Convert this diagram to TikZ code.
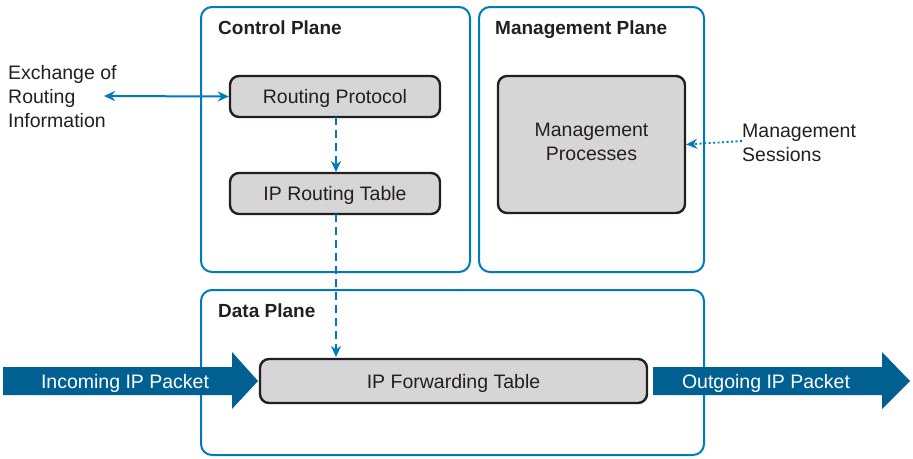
\documentclass[tikz,border=0pt]{standalone}
\usepackage{fontspec}
\setmainfont{Liberation Sans}
\usetikzlibrary{arrows.meta}
\definecolor{planeblue}{RGB}{0,122,190}
\definecolor{arrowblue}{RGB}{0,96,145}
\definecolor{boxgray}{RGB}{214,214,214}
\definecolor{txt}{RGB}{35,31,32}
\tikzset{
  plane/.style={draw=planeblue, line width=2pt, rounded corners=11pt, inner sep=0pt, outer sep=0pt, anchor=north west},
  procbox/.style={draw=txt, fill=boxgray, line width=2.4pt, rounded corners=9pt, inner sep=0pt, outer sep=1.2pt, text=txt, font=\fontsize{19.5}{23}\selectfont},
  title/.style={anchor=base west, inner sep=0pt, text=txt, font=\fontsize{19}{23}\selectfont\bfseries},
  label/.style={inner sep=0pt, text=txt, font=\fontsize{19.5}{24}\selectfont},
  conn/.style={draw=planeblue, line width=2pt},
  tip/.style={-{Stealth[length=11pt,width=10pt]}},
  fatarrow/.style={fill=arrowblue, draw=none},
}
\begin{document}
\begin{tikzpicture}[x=1pt,y=-1pt]
\useasboundingbox (0,0) rectangle (913,458);
% planes
\node[plane, minimum width=269pt, minimum height=265pt] (cp) at (201,7) {};
\node[plane, minimum width=225pt, minimum height=265pt] (mgp) at (479,7) {};
\node[plane, minimum width=503pt, minimum height=165pt] (dp) at (201,290) {};
\node[title] (cpt) at (218,34) {Control Plane};
\node[title] (mgt) at (495,34) {Management Plane};
\node[title] (dpt) at (218,317) {Data Plane};
% process boxes
\node[procbox, minimum width=210pt, minimum height=41pt, text depth=0pt, text height=14pt] (rp) at (335,96.5) {Routing Protocol};
\node[procbox, minimum width=210pt, minimum height=41pt, text depth=0pt, text height=14pt] (rt) at (335,193.5) {IP Routing Table};
\node[procbox, minimum width=187pt, minimum height=137pt] (mp) at (591.5,144.5) {};
\node[label, align=center] (mpt) at (591.5,142) {Management\\Processes};
\node[procbox, minimum width=387pt, minimum height=44pt, text depth=0pt, text height=14pt] (ft) at (453.5,381) {IP Forwarding Table};
% dashed connectors
\draw[conn, tip, dash pattern=on 8pt off 5pt] (336,117) -- (336,172);
\draw[conn, tip, dash pattern=on 8pt off 5pt] (336,214) -- (336,357);
% exchange
\node[label, anchor=north west, align=left] (ex) at (8,65) {Exchange of\\Routing\\Information};
\coordinate (exe) at (104,96);
\draw[conn, {Stealth[length=11pt,width=10pt]}-{Stealth[length=11pt,width=10pt]}] (exe) -- (rp.west);
% management sessions
\node[label, anchor=north west, align=left] (ms) at (742,124) {Management\\Sessions};
\coordinate (mse) at (742,141);
\draw[conn, line width=1.8pt, dash pattern=on 2pt off 2.5pt, tip] (mse) -- (mp.east);
% fat arrows
\fill[fatarrow] (3,367) -- (232,367) -- (232,352) -- (258,381) -- (232,409) -- (232,395) -- (3,395) -- cycle;
\node[label, text=white, text depth=0pt, text height=14pt] (inc) at (125,381) {Incoming IP Packet};
\fill[fatarrow] (653,367) -- (882,367) -- (882,352) -- (910,381) -- (882,409) -- (882,395) -- (653,395) -- cycle;
\node[label, text=white, text depth=0pt, text height=14pt] (out) at (766,381) {Outgoing IP Packet};
\end{tikzpicture}
\end{document}
